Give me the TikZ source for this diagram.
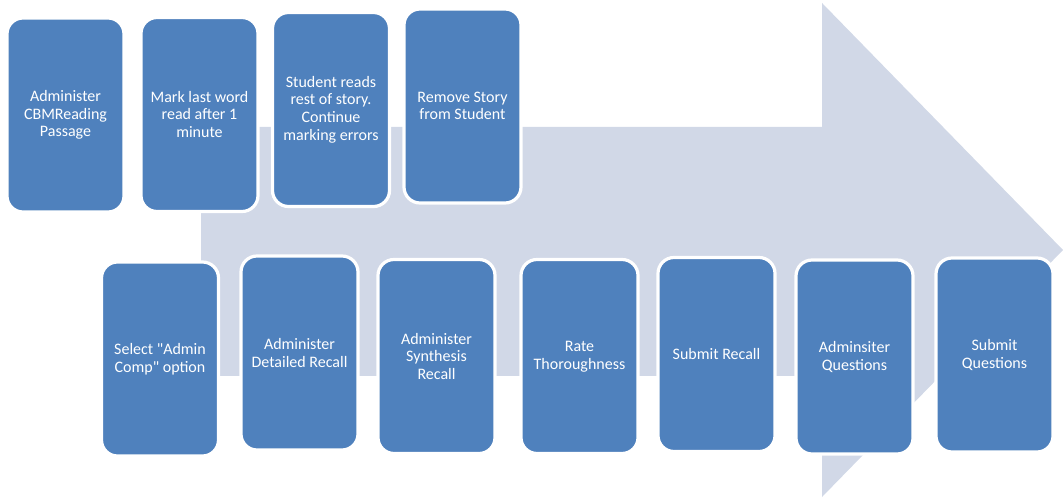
\documentclass[tikz,border=0pt]{standalone}
\usepackage{fontspec}
\setmainfont{Carlito}
\definecolor{arrowbg}{RGB}{209,216,231}
\definecolor{boxblue}{RGB}{79,129,189}
\begin{document}
\begin{tikzpicture}[x=0.75pt,y=-0.75pt,
  stepbox/.style={fill=boxblue,draw=white,line width=2.4pt,rounded corners=12pt,
    minimum width=87.75pt,minimum height=145.5pt,inner sep=0pt,
    text=white,align=center,font=\fontsize{12pt}{13.3pt}\selectfont}]
\useasboundingbox (0,0) rectangle (1063,498);
\fill[arrowbg] (201,127) -- (822,127) -- (822,3) -- (1063,250) -- (822,497) -- (822,376) -- (201,376) -- cycle;
\node[stepbox] (b1) at (65.5,115) {Administer\\CBMReading\\Passage};
\node[stepbox] (b2) at (199.5,114.5) {Mark last word\\read after 1\\minute};
\node[stepbox] (b3) at (331,109.5) {Student reads\\rest of story.\\Continue\\marking errors};
\node[stepbox] (b4) at (462.5,106) {Remove Story\\from Student};
\node[stepbox] (b5) at (160,359) {Select \textquotedbl Admin\\Comp\textquotedbl{} option};
\node[stepbox] (b6) at (299.5,353) {Administer\\Detailed Recall};
\node[stepbox] (b7) at (436.5,356.5) {Administer\\Synthesis\\Recall};
\node[stepbox] (b8) at (579.5,356.5) {Rate\\Thoroughness};
\node[stepbox] (b9) at (716.5,354.5) {Submit Recall};
\node[stepbox] (b10) at (854.5,357) {Adminsiter\\Questions};
\node[stepbox] (b11) at (994.5,355) {Submit\\Questions};
\end{tikzpicture}
\end{document}
